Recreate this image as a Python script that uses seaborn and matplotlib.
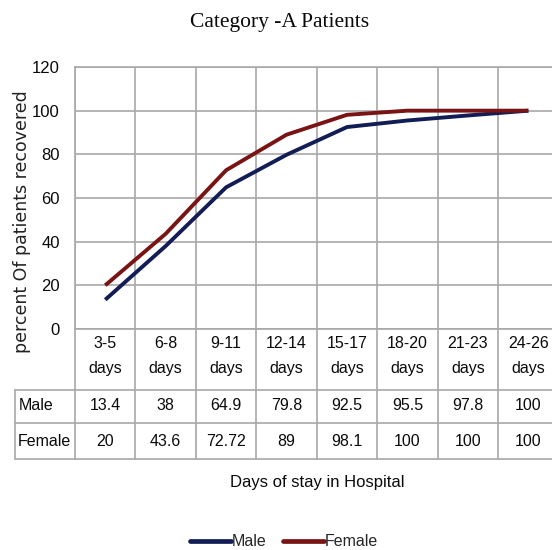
import matplotlib
matplotlib.use("Agg")
import matplotlib.pyplot as plt
from matplotlib import font_manager
from matplotlib.lines import Line2D
from matplotlib.transforms import blended_transform_factory
import seaborn as sns
import pandas as pd

# ---- data ----
categories = ["3-5\ndays", "6-8\ndays", "9-11\ndays", "12-14\ndays",
              "15-17\ndays", "18-20\ndays", "21-23\ndays", "24-26\ndays"]
male = [13.4, 38, 64.9, 79.8, 92.5, 95.5, 97.8, 100]
female = [20, 43.6, 72.72, 89, 98.1, 100, 100, 100]
male_labels = ["13.4", "38", "64.9", "79.8", "92.5", "95.5", "97.8", "100"]
female_labels = ["20", "43.6", "72.72", "89", "98.1", "100", "100", "100"]
series_names = ["Male", "Female"]
yticks = [0, 20, 40, 60, 80, 100, 120]
title = "Category -A Patients"
xlabel = "Days of stay in Hospital"
ylabel = "percent Of patients recovered"

sns.set_style("white")
names = {f.name for f in font_manager.fontManager.ttflist}
narrow = "Liberation Sans Narrow" if "Liberation Sans Narrow" in names else "Liberation Sans"
plt.rcParams["font.family"] = [narrow, "DejaVu Sans"]
FS = 12 if narrow == "Liberation Sans Narrow" else 11.5

W, H = 552, 550
fig = plt.figure(figsize=(W / 100, H / 100), dpi=100)
L, R, T, B = 75, 558.6, 67, 329
ax = fig.add_axes([L / W, 1 - B / H, (R - L) / W, (B - T) / H])

df = pd.DataFrame({
    "x": list(range(len(categories))) * 2,
    "value": male + female,
    "series": [series_names[0]] * len(male) + [series_names[1]] * len(female),
})
colors = {"Male": "#121d55", "Female": "#7a1414"}
sns.lineplot(data=df, x="x", y="value", hue="series", palette=colors,
             linewidth=2.8, ax=ax, legend=False, solid_capstyle="butt")

grid_c = "#a8a8a8"
lw = 1.2
txt_c = "#0a0a0a"
ax.set_xlim(-0.5, len(categories) - 0.5)
ax.set_ylim(0, 120)
ax.set_yticks(yticks)
ax.set_yticklabels([str(v) for v in yticks], fontsize=FS + 0.5, color=txt_c)
ax.set_xticks([i - 0.5 for i in range(len(categories) + 1)])
ax.set_xticklabels([])
ax.tick_params(axis="both", length=0, pad=11)
ax.grid(True, color=grid_c, linewidth=lw)
for s in ax.spines.values():
    s.set_color(grid_c)
    s.set_linewidth(lw)
ax.set_xlabel("")
ax.set_ylabel("")

# ---- data table ----
bt = blended_transform_factory(ax.transData, fig.transFigure)
ft = fig.transFigure

def fy(py):
    return 1 - py / H

row_y = [329, 390, 423, 459]
for i in range(len(categories) + 1):
    fig.add_artist(Line2D([i - 0.5, i - 0.5], [fy(329), fy(459)], transform=bt,
                          color=grid_c, linewidth=lw))
for py in row_y[1:]:
    fig.add_artist(Line2D([15 / W, R / W], [fy(py), fy(py)], transform=ft,
                          color=grid_c, linewidth=lw))
fig.add_artist(Line2D([15 / W, 15 / W], [fy(390), fy(459)], transform=ft,
                      color=grid_c, linewidth=lw))

for i, c in enumerate(categories):
    top, bot = c.split("\n")
    fig.text(i, fy(343), top, transform=bt, ha="center", va="center", fontsize=FS, color=txt_c)
    fig.text(i, fy(369), bot, transform=bt, ha="center", va="center", fontsize=FS, color=txt_c)
    fig.text(i, fy(406), male_labels[i], transform=bt, ha="center", va="center", fontsize=FS, color=txt_c)
    fig.text(i, fy(441), female_labels[i], transform=bt, ha="center", va="center", fontsize=FS, color=txt_c)
fig.text(19 / W, fy(406), series_names[0], ha="left", va="center", fontsize=FS, color=txt_c)
fig.text(18 / W, fy(441), series_names[1], ha="left", va="center", fontsize=FS, color=txt_c)

# ---- titles ----
fig.text(280 / W, fy(22), title, ha="center", va="center", fontsize=15.5,
         family=["Liberation Serif", "DejaVu Serif"], color=txt_c)
fig.text((L + R) / 2 / W, fy(482), xlabel, ha="center", va="center", fontsize=FS + 0.5, color=txt_c)
fig.text(22 / W, fy(222), ylabel, ha="center", va="center", rotation=90, fontsize=12.5,
         family=["DejaVu Sans"], color="#222222")

# ---- legend ----
handles = [Line2D([], [], color=colors[n], linewidth=3.4) for n in series_names]
fig.legend(handles, series_names, loc="center", bbox_to_anchor=(284 / W, fy(542)),
           ncol=2, frameon=False, fontsize=FS, handlelength=2.6, handletextpad=0.05,
           columnspacing=1.0)

fig.savefig("out.png", dpi=100)
